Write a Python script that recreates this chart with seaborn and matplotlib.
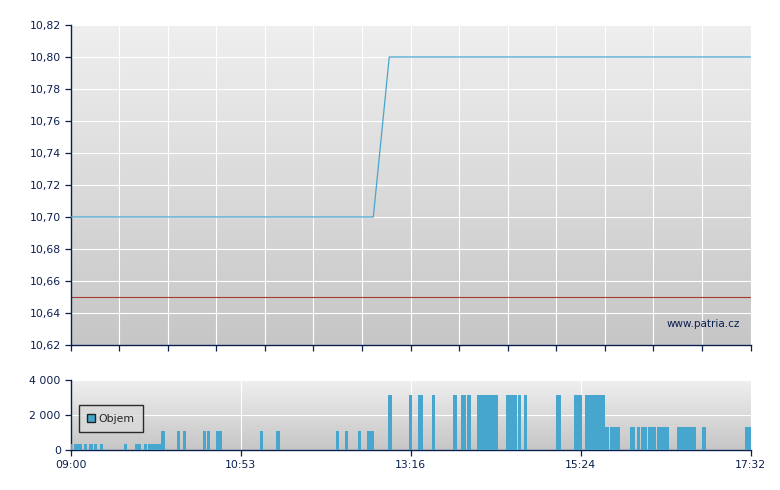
import numpy as np
import matplotlib
matplotlib.use('Agg')
import matplotlib.pyplot as plt
import seaborn as sns
from matplotlib.patches import Patch

# Cena (minuty od 09:00)
price_t = [0, 228, 240, 512]
price_v = [10.70, 10.70, 10.80, 10.80]
ref_price = 10.65

# Objem: zacatek, konec (minuty od 09:00), objem
vol_start = [0, 2.6, 10.2, 13.9, 17.7, 22.2, 40.3, 48.6, 55.3, 58.4,
             68.1, 80.2, 84.7, 99.8, 102.8, 109.6, 142.7, 154.7, 199.9, 206.7, 216.5, 223.2,
             239.1, 254.9, 261.7, 272.2, 288.0, 294.0, 298.5, 306.0, 328.0, 336.9, 341.5,
             365.6, 379.1, 387.4,
             402.5, 406.2, 421.3, 426.5, 429.5, 434.8, 441.5, 456.8, 475.4, 507.8]
vol_end = [1.1, 8.7, 12.4, 16.9, 20.0, 24.5, 42.5, 53.1, 57.6, 68.1,
           71.1, 82.5, 86.9, 102.0, 105.0, 114.1, 144.9, 157.7, 202.2, 208.9, 218.7, 228.5,
           242.1, 257.2, 265.4, 274.5, 291.0, 297.8, 301.5, 321.9, 336.2, 339.2, 343.7,
           369.3, 385.1, 402.5,
           405.5, 413.8, 425.0, 428.8, 434.0, 440.8, 450.5, 471.1, 478.4, 512]
vol_val = [350] * 10 + [1100] * 12 + [3150] * 14 + [1320] * 10

x_ticks = [0, 128, 256, 384, 512]
x_labels = ['09:00', '10:53', '13:16', '15:24', '17:32']

sns.set_style('white')
plt.rcParams['font.family'] = ['DejaVu Sans']

navy = '#0b1f4f'
blue = '#46a6ce'

fig = plt.figure(figsize=(7.8, 4.9), dpi=100)
ax1 = fig.add_axes([70.5 / 780, 1 - 345 / 490, 680 / 780, 320 / 490])
ax2 = fig.add_axes([70.5 / 780, 1 - 450 / 490, 680 / 780, 70 / 490])

grad = np.linspace(0, 1, 256).reshape(-1, 1)
gcmap = matplotlib.colors.LinearSegmentedColormap.from_list('g', ['#efefef', '#c6c6c6'])
for ax in (ax1, ax2):
    ax.imshow(grad, cmap=gcmap, aspect='auto', extent=[0, 1, 0, 1],
              transform=ax.transAxes, zorder=0)
    for s in ('top', 'right'):
        ax.spines[s].set_visible(False)
    for s in ('left', 'bottom'):
        ax.spines[s].set_color(navy)
        ax.spines[s].set_linewidth(1.0)
    ax.tick_params(colors=navy, labelcolor=navy, labelsize=7.8, length=4,
                   width=0.9, direction='out', left=True, bottom=True, pad=3)
    ax.set_xlim(0, 512)

# Horni graf - cena
ax1.set_ylim(10.62, 10.82)
ax1.set_yticks(np.round(np.arange(10.62, 10.821, 0.02), 2))
ax1.set_yticklabels([f'{v:.2f}'.replace('.', ',') for v in np.arange(10.62, 10.821, 0.02)])
ax1.set_xticks(np.linspace(0, 512, 15))
ax1.set_xticklabels([])
ax1.grid(True, color='white', linewidth=0.8, zorder=1)
ax1.set_axisbelow(True)
ax1.axhline(ref_price, color='#a83a32', linewidth=0.8, zorder=2)
sns.lineplot(x=price_t, y=price_v, ax=ax1, color=blue, linewidth=0.9, zorder=3)
ax1.text(0.985, 0.065, 'www.patria.cz', transform=ax1.transAxes, ha='right',
         va='center', color=navy, fontsize=7.5)

# Dolni graf - objem
ax2.set_ylim(0, 4000)
ax2.set_yticks([0, 2000, 4000])
ax2.set_yticklabels(['0', '2 000', '4 000'])
ax2.set_xticks(x_ticks)
ax2.set_xticklabels(x_labels)
ax2.grid(True, color='white', linewidth=0.8, zorder=1)
ax2.set_axisbelow(True)
widths = np.array(vol_end) - np.array(vol_start)
ax2.bar(vol_start, vol_val, width=widths, align='edge', color=blue,
        linewidth=0, zorder=3)
leg = ax2.legend(handles=[Patch(facecolor=blue, edgecolor='#222222', label='Objem')],
                 loc='center left', bbox_to_anchor=(0.004, 0.45), frameon=True,
                 fontsize=7.8, handlelength=0.8, handleheight=0.8,
                 handletextpad=0.3, borderpad=0.75, fancybox=False)
leg.get_frame().set_edgecolor('black')
leg.get_frame().set_facecolor('#dadada')
leg.get_frame().set_linewidth(1.0)

fig.savefig('out.png', dpi=100)
